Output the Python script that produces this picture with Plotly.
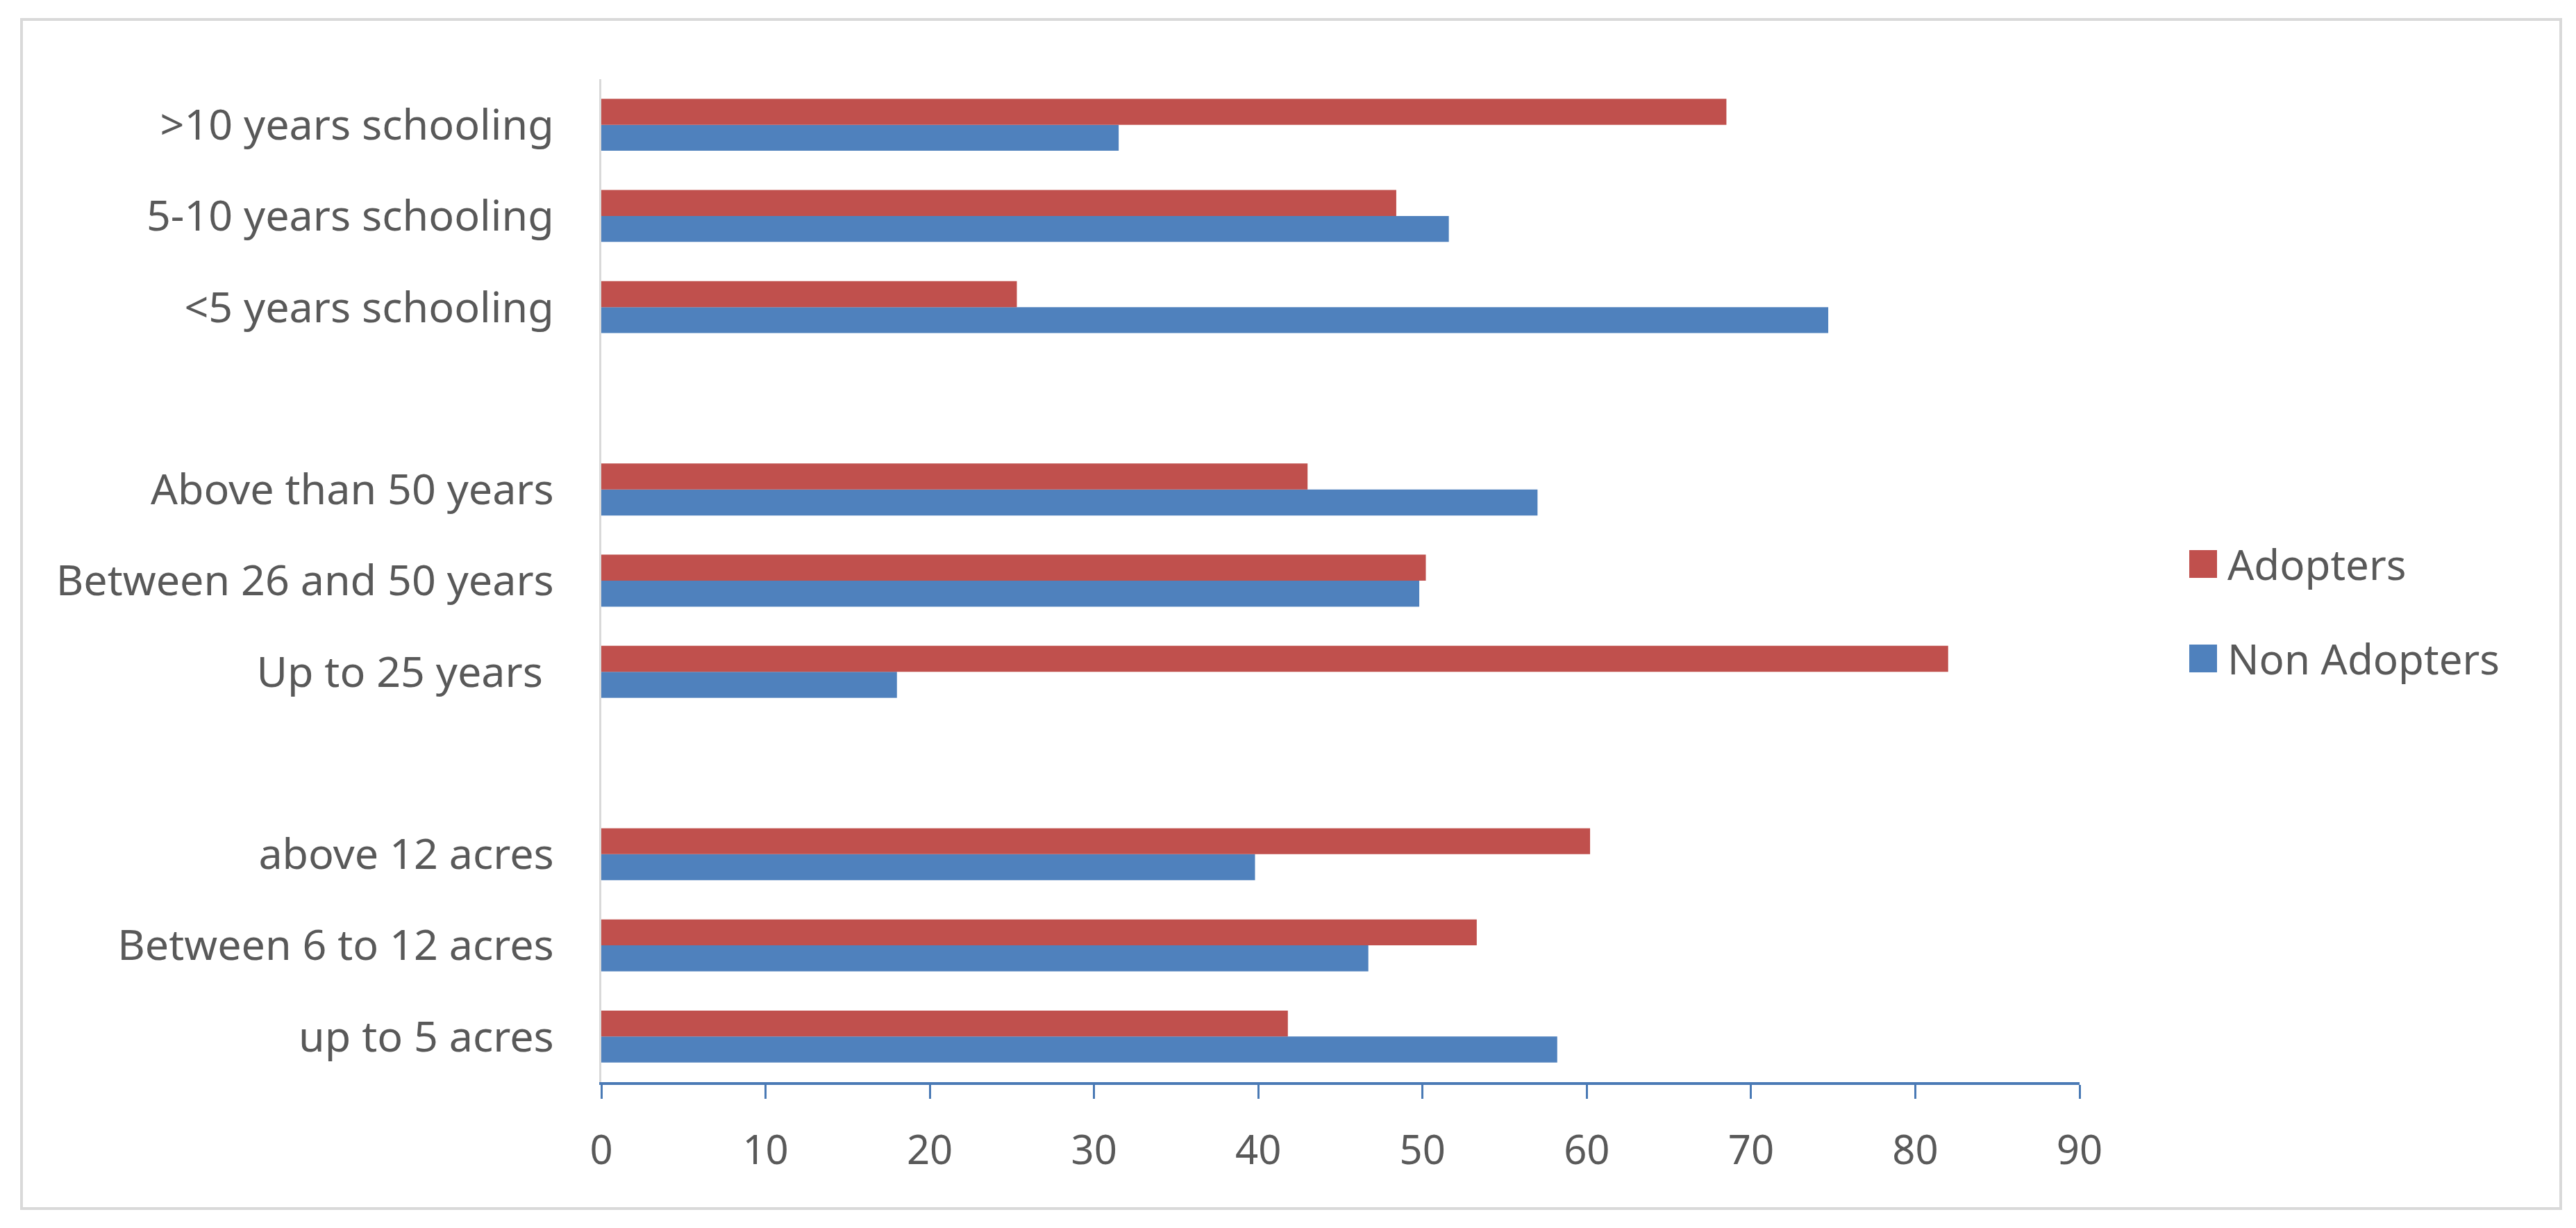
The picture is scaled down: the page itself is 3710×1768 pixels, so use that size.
import plotly.graph_objects as go

# ---- data (bottom-to-top order of the horizontal bars) ----
categories = [
    "up to 5 acres", "Between 6 to 12 acres", "above 12 acres",
    "Up to 25 years\u00a0", "Between 26 and 50 years", "Above than 50 years",
    "<5 years schooling", "5-10 years schooling", ">10 years schooling",
]
category_order = [
    "up to 5 acres", "Between 6 to 12 acres", "above 12 acres", " ",
    "Up to 25 years\u00a0", "Between 26 and 50 years", "Above than 50 years", "  ",
    "<5 years schooling", "5-10 years schooling", ">10 years schooling",
]
adopters = [41.8, 53.3, 60.2, 82.0, 50.2, 43.0, 25.3, 48.4, 68.5]
non_adopters = [58.2, 46.7, 39.8, 18.0, 49.8, 57.0, 74.7, 51.6, 31.5]
x_ticks = [0, 10, 20, 30, 40, 50, 60, 70, 80, 90]
series_names = ["Adopters", "Non Adopters"]

RED = "#C0504D"
BLUE = "#4F81BD"
TXT = "#595959"
FONT = "Noto Sans"

# page is offset by the default 8px body margin
OFF = 8
W, H = 3710 - 2 * OFF, 1768 - 2 * OFF
PLOT_L, PLOT_R, PLOT_T, PLOT_B = 866, 2995, 114, 1558   # page coords
ML, MT = PLOT_L - OFF, PLOT_T - OFF
PW, PH = PLOT_R - PLOT_L, PLOT_B - PLOT_T
MR, MB = W - ML - PW, H - MT - PH


def px(x):
    return (x - PLOT_L) / PW


def py(y):
    return (PLOT_B - y) / PH


fig = go.Figure()
fig.add_trace(go.Bar(y=categories, x=non_adopters, name=series_names[1],
                     orientation="h", marker=dict(color=BLUE, line=dict(width=0)),
                     showlegend=False))
fig.add_trace(go.Bar(y=categories, x=adopters, name=series_names[0],
                     orientation="h", marker=dict(color=RED, line=dict(width=0)),
                     showlegend=False))

shapes = [
    # outer frame
    dict(type="rect", xref="paper", yref="paper",
         x0=px(31), x1=px(3688), y0=py(1740), y1=py(28),
         line=dict(color="#d9d9d9", width=4), fillcolor="rgba(0,0,0,0)", layer="below"),
]
annotations = []
legend_colors = [RED, BLUE]
legend_y = [812, 948]
for name, col, yc in zip(series_names, legend_colors, legend_y):
    shapes.append(dict(type="rect", xref="paper", yref="paper",
                       x0=px(3153), x1=px(3193), y0=py(yc + 20), y1=py(yc - 20),
                       fillcolor=col, line=dict(width=0)))
    annotations.append(dict(text=name, xref="paper", yref="paper",
                            x=px(3206), y=py(yc), xanchor="left", yanchor="middle",
                            showarrow=False, font=dict(family=FONT, size=60, color=TXT)))

fig.update_layout(
    width=W, height=H,
    margin=dict(l=ML, r=MR, t=MT, b=MB, pad=0),
    paper_bgcolor="white", plot_bgcolor="white",
    barmode="group", bargap=0.43, bargroupgap=0,
    font=dict(family=FONT, size=60, color=TXT),
    shapes=shapes, annotations=annotations,
    showlegend=False,
)
fig.update_xaxes(
    range=[0, 90], tickvals=x_ticks, showgrid=False, zeroline=False,
    showline=True, linecolor="#4a7ab5", linewidth=4,
    ticks="outside", ticklen=20, tickwidth=3, tickcolor="#4a7ab5",
    tickfont=dict(family=FONT, size=58, color=TXT), ticklabelstandoff=24,
)
fig.update_yaxes(
    categoryorder="array", categoryarray=category_order,
    range=[-0.5, len(category_order) - 0.5],
    showgrid=False, zeroline=False, showline=True, linecolor="#d9d9d9", linewidth=3,
    ticks="", tickfont=dict(family=FONT, size=61, color=TXT), ticklabelstandoff=53,
)

fig.write_html("out.html")
